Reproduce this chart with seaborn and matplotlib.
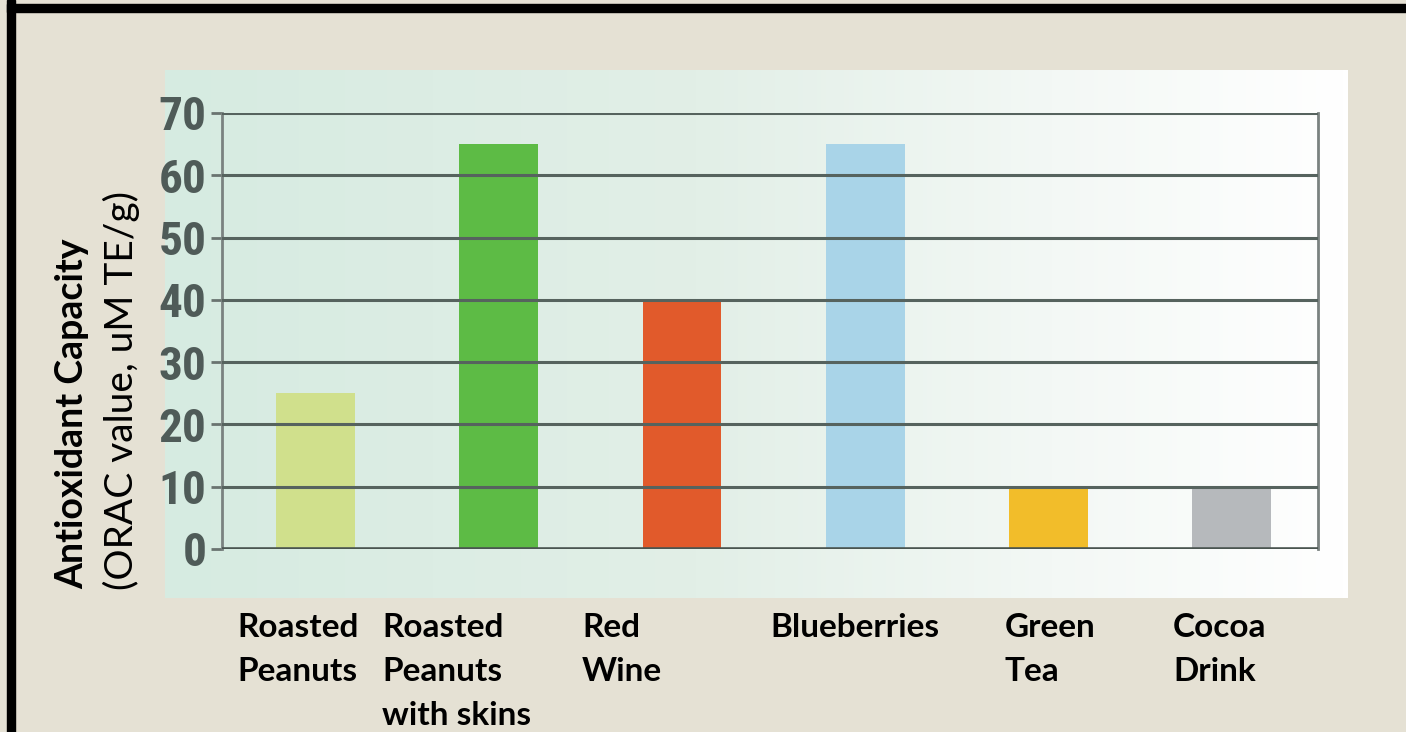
import numpy as np
import pandas as pd
import matplotlib
matplotlib.use("Agg")
import matplotlib.pyplot as plt
import seaborn as sns
from matplotlib.colors import LinearSegmentedColormap
from matplotlib import font_manager

# ---- data ----
categories = ["Roasted Peanuts", "Roasted Peanuts with skins", "Red Wine",
              "Blueberries", "Green Tea", "Cocoa Drink"]
label_texts = ["Roasted\nPeanuts", "Roasted\nPeanuts\nwith skins", "Red\nWine",
               "Blueberries", "Green\nTea", "Cocoa\nDrink"]
values = [25, 65, 40, 65, 10, 10]
colors = ["#d0e08c", "#5dbb45", "#e15a2b", "#a9d4e8", "#f2bd2a", "#b6b9bc"]
yticks = [0, 10, 20, 30, 40, 50, 60, 70]
ytick_labels = ["0", "10", "20", "30", "40", "50", "60", "70"]
label_x_px = [237, 382, 582, 770, 1005, 1173]

W, H = 1406, 732
sns.set_theme(style="white")
plt.rcParams['font.family'] = ['Lato', 'DejaVu Sans']

# condensed font for tick numbers if available
names = {f.name for f in font_manager.fontManager.ttflist}
tick_family = "Roboto"
for cand in ["Liberation Sans Narrow", "DejaVu Sans Condensed", "Roboto Condensed"]:
    if cand in names:
        tick_family = cand
        break
tick_size = 34 if tick_family != "Roboto" else 28

fig = plt.figure(figsize=(W / 100, H / 100), dpi=100)
fig.patch.set_facecolor("#e5e1d4")

# black frame (left and top)
fig.add_artist(plt.Rectangle((7 / W, 0), 8 / W, 1, transform=fig.transFigure,
                             color="black", zorder=10))
fig.add_artist(plt.Rectangle((7 / W, 1 - 12 / H), 1 - 7 / W, 8 / H,
                             transform=fig.transFigure, color="black", zorder=10))

# gradient panel
pax = fig.add_axes([165 / W, 1 - 598 / H, (1348 - 165) / W, (598 - 70) / H])
cmap = LinearSegmentedColormap.from_list(
    "g", [(0, "#d6ebe1"), (0.45, "#e2efe7"), (0.75, "#f3f8f5"), (1.0, "#ffffff")])
grad = np.linspace(0, 1, 256).reshape(1, -1)
pax.imshow(grad, aspect="auto", cmap=cmap, extent=[0, 1, 0, 1])
pax.set_axis_off()

# main axes
ax = fig.add_axes([222 / W, 1 - 549 / H, (1318 - 222) / W, (549 - 113) / H])
ax.patch.set_alpha(0)
df = pd.DataFrame({"cat": categories, "val": values})
sns.barplot(data=df, x="cat", y="val", hue="cat", palette=colors,
            legend=False, width=0.43, saturation=1, linewidth=0, ax=ax, zorder=2)
ax.set_xlim(-0.51, 5.47)
ax.set_ylim(0, 70)
ax.set_xticks([])
ax.set_xlabel("")
ax.set_ylabel("")
ax.tick_params(axis="y", length=8, width=2, color="#6a7470", pad=3, left=True,
               labelsize=tick_size, labelcolor="#4f5b58")
ax.set_yticks(yticks, ytick_labels)
for t in ax.get_yticklabels():
    t.set_fontproperties(font_manager.FontProperties(
        family=tick_family, weight="bold", size=tick_size))
for y in yticks[1:]:
    ax.axhline(y, color="#56635e", lw=2.2, zorder=3)
ax.axhline(0, color="#4a5550", lw=2.6, zorder=3)
for s in ["left", "right"]:
    ax.spines[s].set_visible(True)
    ax.spines[s].set_color("#7a8280")
    ax.spines[s].set_linewidth(2)
ax.spines["top"].set_visible(False)
ax.spines["bottom"].set_visible(False)

# y-axis label (two lines)
fig.text(72 / W, 1 - 589 / H, "Antioxidant Capacity", rotation=90,
         ha="center", va="bottom", fontsize=27, fontweight="bold", color="black")
fig.text(121 / W, 1 - 590 / H, "(ORAC value, uM TE/g)", rotation=90,
         ha="center", va="bottom", fontsize=28, color="black")

# category labels
for txt, xp in zip(label_texts, label_x_px):
    fig.text(xp / W, 1 - 613 / H, txt, ha="left", va="top", fontsize=24,
             fontweight="bold", color="black", linespacing=1.62)

fig.savefig("out.png", dpi=100, facecolor=fig.get_facecolor())
